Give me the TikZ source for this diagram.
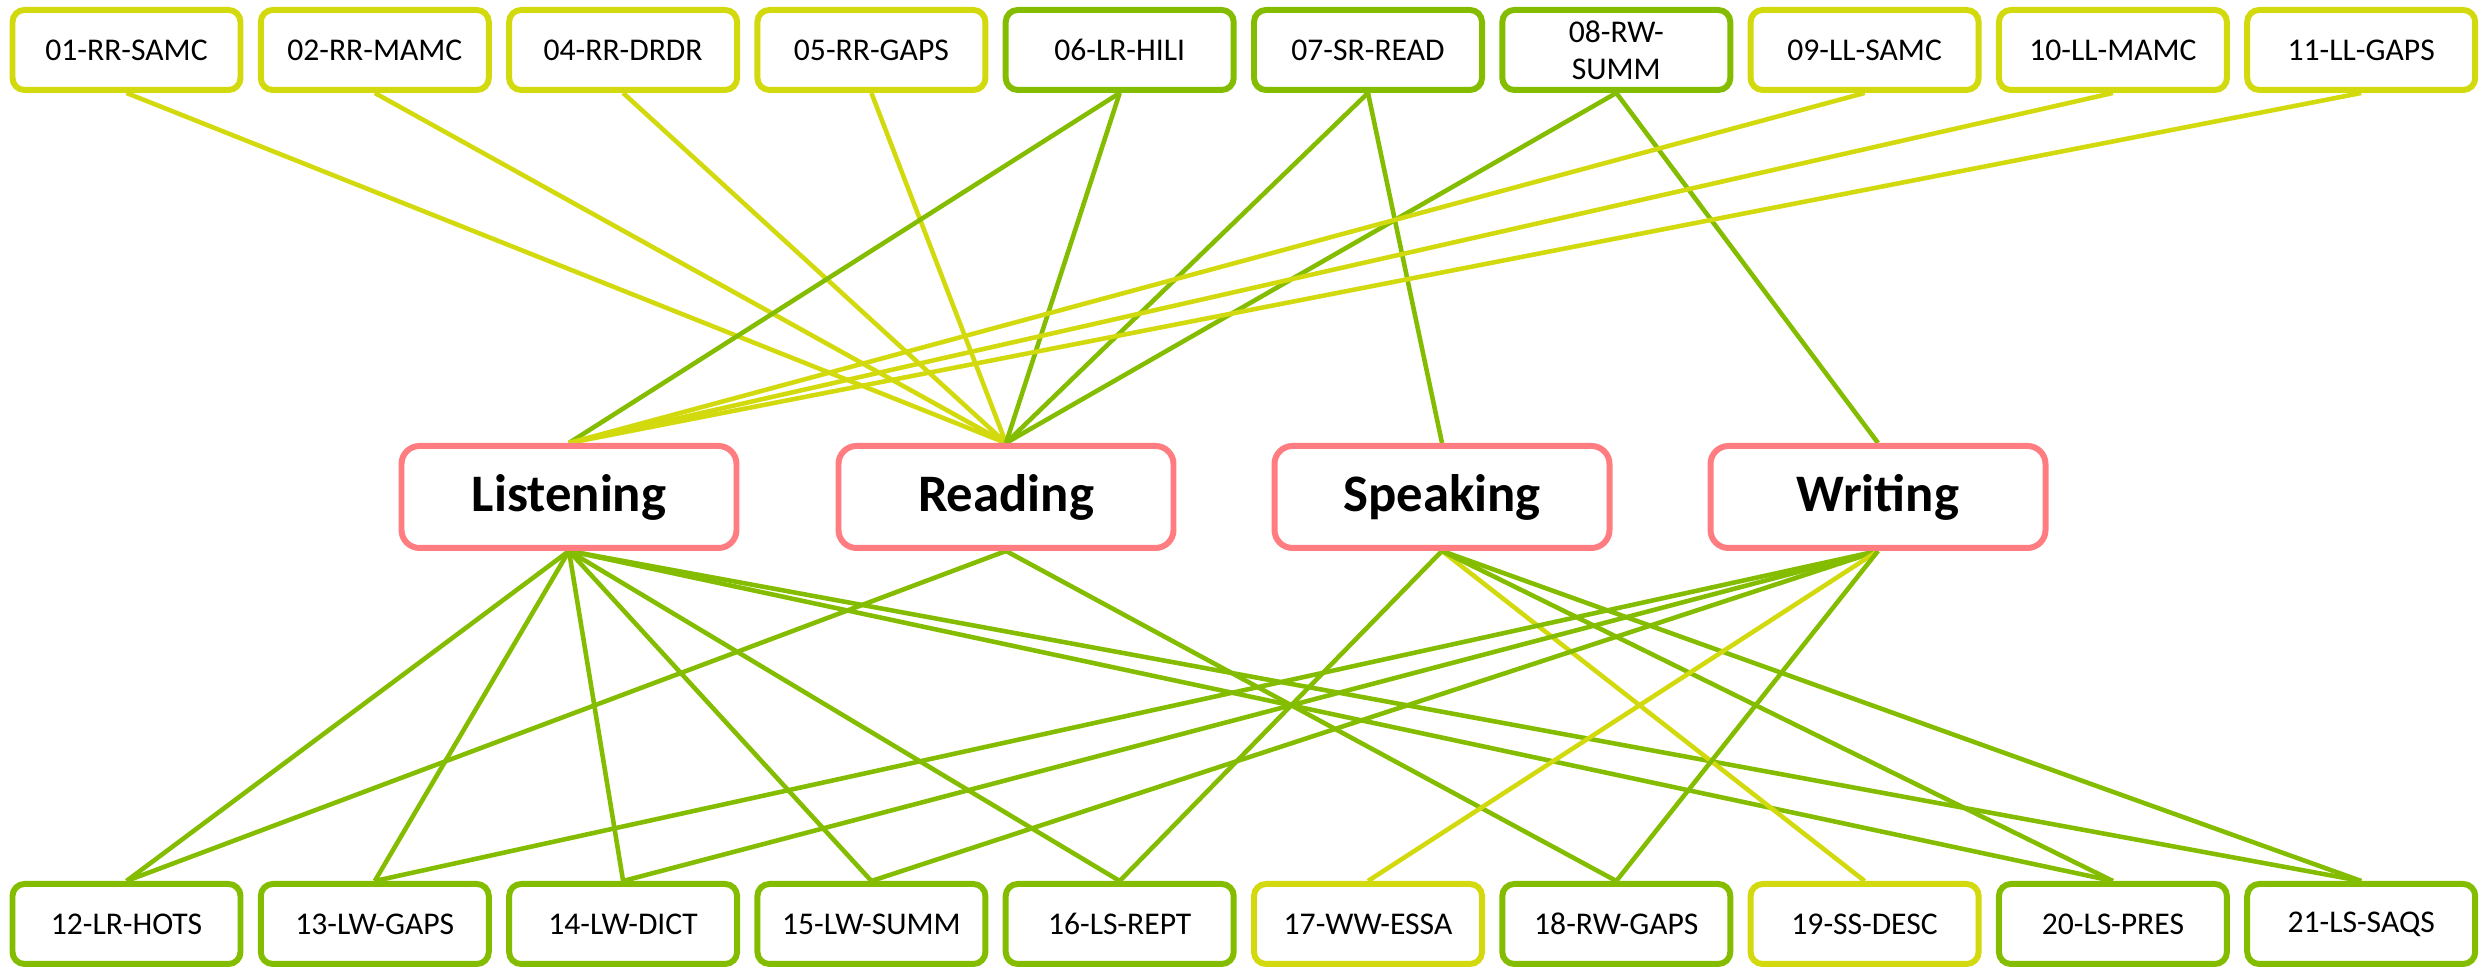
\documentclass[tikz,border=0pt]{standalone}
\usepackage{fontspec}
\setmainfont{Carlito}
\usetikzlibrary{backgrounds}
\definecolor{limey}{RGB}{210,218,14}
\definecolor{leaf}{RGB}{132,189,0}
\definecolor{rose}{RGB}{255,124,128}

\begin{document}
\begin{tikzpicture}[
        task/.style = {draw, line width=1.7pt, rounded corners=1.2mm, fill=white,
            minimum width=2.28cm, minimum height=0.8cm, inner sep=1pt,
            align=center, font=\fontsize{9}{10.5}\selectfont},
        skill/.style = {draw=rose, line width=1.7pt, rounded corners=1.8mm, fill=white,
            minimum width=3.35cm, minimum height=1.02cm,
            font=\fontsize{15}{18}\selectfont\bfseries},
        link/.style = {line width=1.3pt}
    ]
        \useasboundingbox (0, 0) rectangle (24.79, 9.68);
        % tasks above
        \node [task, draw=limey] (q01) at (1.265, 9.18) {01-RR-SAMC};
        \node [task, draw=limey] (q02) at (3.748, 9.18) {02-RR-MAMC};
        \node [task, draw=limey] (q04) at (6.231, 9.18) {04-RR-DRDR};
        \node [task, draw=limey] (q05) at (8.714, 9.18) {05-RR-GAPS};
        \node [task, draw=leaf] (q06) at (11.197, 9.18) {06-LR-HILI};
        \node [task, draw=leaf] (q07) at (13.680, 9.18) {07-SR-READ};
        \node [task, draw=leaf] (q08) at (16.163, 9.18) {08-RW-\\SUMM};
        \node [task, draw=limey] (q09) at (18.646, 9.18) {09-LL-SAMC};
        \node [task, draw=limey] (q10) at (21.129, 9.18) {10-LL-MAMC};
        \node [task, draw=limey] (q11) at (23.612, 9.18) {11-LL-GAPS};
        % skills
        \node [skill] (listening) at (5.69, 4.71) {Listening};
        \node [skill] (reading) at (10.06, 4.71) {Reading};
        \node [skill] (speaking) at (14.42, 4.71) {Speaking};
        \node [skill] (writing) at (18.78, 4.71) {Writing};
        % tasks below
        \node [task, draw=leaf] (q12) at (1.265, 0.44) {12-LR-HOTS};
        \node [task, draw=leaf] (q13) at (3.748, 0.44) {13-LW-GAPS};
        \node [task, draw=leaf] (q14) at (6.231, 0.44) {14-LW-DICT};
        \node [task, draw=leaf] (q15) at (8.714, 0.44) {15-LW-SUMM};
        \node [task, draw=leaf] (q16) at (11.197, 0.44) {16-LS-REPT};
        \node [task, draw=limey] (q17) at (13.680, 0.44) {17-WW-ESSA};
        \node [task, draw=leaf] (q18) at (16.163, 0.44) {18-RW-GAPS};
        \node [task, draw=limey] (q19) at (18.646, 0.44) {19-SS-DESC};
        \node [task, draw=leaf] (q20) at (21.129, 0.44) {20-LS-PRES};
        \node [task, draw=leaf] (q21) at (23.612, 0.44) {21-LS-SAQS};
        \begin{scope}[on background layer]
            % upper links
            \draw [link, limey] (q01.south) -- (reading.north);
            \draw [link, limey] (q02.south) -- (reading.north);
            \draw [link, limey] (q04.south) -- (reading.north);
            \draw [link, limey] (q05.south) -- (reading.north);
            \draw [link, leaf] (q06.south) -- (listening.north);
            \draw [link, leaf] (q06.south) -- (reading.north);
            \draw [link, leaf] (q07.south) -- (reading.north);
            \draw [link, leaf] (q07.south) -- (speaking.north);
            \draw [link, leaf] (q08.south) -- (reading.north);
            \draw [link, leaf] (q08.south) -- (writing.north);
            \draw [link, limey] (q09.south) -- (listening.north);
            \draw [link, limey] (q10.south) -- (listening.north);
            \draw [link, limey] (q11.south) -- (listening.north);
            % lower links
            \draw [link, leaf] (listening.south) -- (q12.north);
            \draw [link, leaf] (listening.south) -- (q13.north);
            \draw [link, leaf] (listening.south) -- (q14.north);
            \draw [link, leaf] (listening.south) -- (q15.north);
            \draw [link, leaf] (listening.south) -- (q16.north);
            \draw [link, leaf] (listening.south) -- (q20.north);
            \draw [link, leaf] (listening.south) -- (q21.north);
            \draw [link, leaf] (reading.south) -- (q12.north);
            \draw [link, leaf] (reading.south) -- (q18.north);
            \draw [link, leaf] (speaking.south) -- (q16.north);
            \draw [link, limey] (speaking.south) -- (q19.north);
            \draw [link, leaf] (speaking.south) -- (q20.north);
            \draw [link, leaf] (speaking.south) -- (q21.north);
            \draw [link, leaf] (writing.south) -- (q13.north);
            \draw [link, leaf] (writing.south) -- (q14.north);
            \draw [link, leaf] (writing.south) -- (q15.north);
            \draw [link, limey] (writing.south) -- (q17.north);
            \draw [link, leaf] (writing.south) -- (q18.north);
        \end{scope}
    \end{tikzpicture}
\end{document}
